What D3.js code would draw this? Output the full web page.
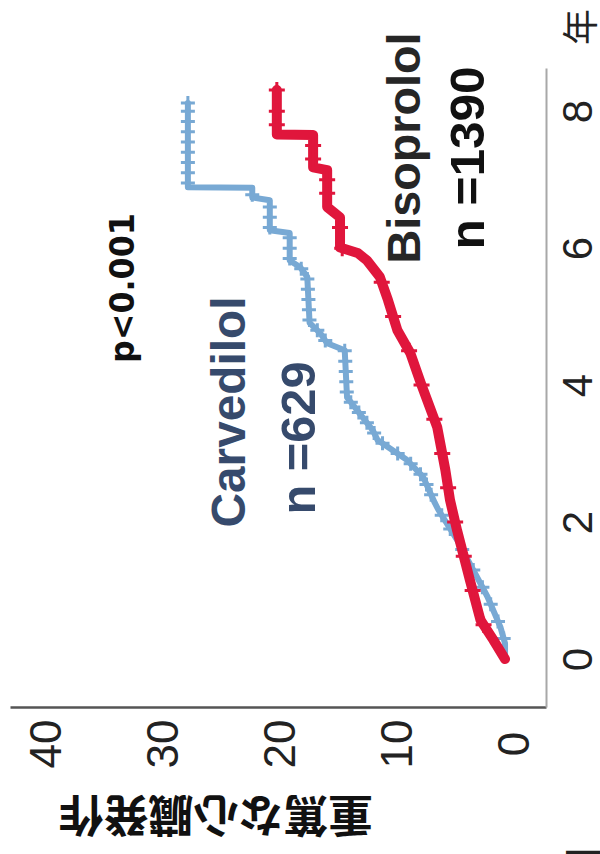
<!DOCTYPE html>
<html>
<head>
<meta charset="utf-8">
<script src="https://cdn.jsdelivr.net/npm/d3@7"></script>
<style>
  body { margin: 0; background: #fff; }
</style>
</head>
<body>
<svg id="chart" width="600" height="854"></svg>
<script>
// chart is shown turned a quarter turn: years run upward, % runs leftward
var yearTicks = [0, 2, 4, 6, 8]
var pctTicks = [0, 10, 20, 30, 40]

var carvTime = [0, 0.23, 0.47, 0.91, 1.20, 1.74, 2.18, 2.28, 2.66, 2.91, 3.20, 3.34, 3.82, 4.51, 4.61, 4.76, 4.91, 5.58, 5.72, 5.82, 6.22, 6.26, 6.70, 6.74, 6.88, 6.89, 8.12]
var carvPct = [0.7, 0.7, 1.1, 2.2, 3.1, 4.8, 6.4, 6.7, 7.7, 9.1, 11.6, 12.0, 14.2, 14.4, 15.9, 16.5, 17.4, 17.6, 18.2, 19.1, 19.1, 20.8, 20.8, 22.3, 22.3, 27.8, 27.8]
var carvCensor = [0.3, 0.55, 0.8, 1.05, 1.3, 1.6, 1.9, 2.1, 2.4, 2.55, 2.7, 2.85, 3.0, 3.15, 3.3, 3.45, 3.6, 3.75, 3.9, 4.05, 4.2, 4.35, 4.5, 4.65, 4.8, 4.95, 5.1, 5.25, 5.4, 5.55, 5.7, 5.85, 6.0, 6.15, 6.3, 6.45, 6.6, 6.78, 6.95, 7.1, 7.25, 7.4, 7.55, 7.7, 7.85, 8.0, 8.12]

var bisoTime = [0, 0.28, 0.57, 1.15, 1.88, 2.32, 2.76, 3.39, 4.03, 4.47, 4.80, 5.24, 5.58, 5.82, 5.93, 6.01, 6.45, 6.60, 7.14, 7.18, 7.65, 7.66, 8.31]
var bisoPct = [0.7, 1.7, 2.8, 3.7, 4.8, 5.4, 5.8, 6.5, 7.9, 8.8, 9.9, 10.7, 11.4, 12.5, 13.3, 14.8, 14.8, 15.9, 15.9, 17.1, 17.1, 20.2, 20.2]
var bisoCensor = [0.5, 1.0, 1.5, 2.0, 2.5, 3.0, 3.5, 4.0, 4.5, 5.0, 5.5, 6.0, 6.3, 6.8, 7.0, 7.3, 7.5, 7.8, 8.0, 8.31]

var svg = d3.select("#chart")
var tickFont = "'Liberation Sans', Arial, sans-serif"

var t = d3.scaleLinear().domain([-0.7, 8.63]).range([707, 68])
var v = d3.scaleLinear().domain([-2.8, 43]).range([546, 10])

// value axis (bottom)
var gv = svg.append("g").attr("transform", "translate(0,707)")
  .call(d3.axisBottom(v).tickValues(pctTicks).tickSize(0).tickSizeOuter(0))
gv.select(".domain").attr("stroke", "#555").attr("stroke-width", 2.5)
gv.selectAll("text")
  .attr("y", null).attr("dy", null)
  .attr("transform", "translate(0,37) rotate(-90)")
  .attr("text-anchor", "middle")
  .attr("dominant-baseline", "central")
  .style("font", "44px " + tickFont)
  .attr("fill", "#222")

// time axis (right)
var gt = svg.append("g").attr("transform", "translate(546,0)")
  .call(d3.axisRight(t).tickValues(yearTicks).tickSize(0).tickSizeOuter(0))
gt.select(".domain").attr("stroke", "#a8a8a8").attr("stroke-width", 2)
gt.selectAll("text")
  .attr("x", null).attr("dy", null)
  .attr("transform", "translate(31,0) rotate(-90)")
  .attr("text-anchor", "middle")
  .attr("dominant-baseline", "central")
  .style("font", "42px " + tickFont)
  .attr("fill", "#222")

var valueAt = function (time, pct, tt) {
  var i = d3.bisectRight(time, tt) - 1
  if (i < 0) return pct[0]
  if (i >= time.length - 1) return pct[pct.length - 1]
  var f = (tt - time[i]) / (time[i + 1] - time[i])
  return pct[i] + f * (pct[i + 1] - pct[i])
}

var line = d3.line()
  .x(function (d) { return v(d[1]) })
  .y(function (d) { return t(d[0]) })

var drawCurve = function (time, pct, censor, color, width, mark, markWidth) {
  var pts = time.map(function (d, i) { return [d, pct[i]] })
  svg.append("path").datum(pts)
    .attr("d", line)
    .attr("fill", "none")
    .attr("stroke", color)
    .attr("stroke-width", width)
    .attr("stroke-linejoin", "round")
    .attr("stroke-linecap", "round")
  var g = svg.append("g")
  censor.forEach(function (c) {
    var cx = v(valueAt(time, pct, c))
    var cy = t(c)
    g.append("path")
      .attr("d", "M" + (cx - mark) + "," + cy + "H" + (cx + mark) + "M" + cx + "," + (cy - mark) + "V" + (cy + mark))
      .attr("stroke", color)
      .attr("stroke-width", markWidth)
  })
}

drawCurve(carvTime, carvPct, carvCensor, "#78a9d4", 6, 7, 3)
drawCurve(bisoTime, bisoPct, bisoCensor, "#e0163c", 10, 8, 3)

var rotText = function (txt, cx, cy, size, weight, color, family, len) {
  var el = svg.append("text")
    .attr("transform", "translate(" + cx + "," + cy + ") rotate(-90)")
    .attr("text-anchor", "middle")
    .attr("dominant-baseline", "central")
    .style("font-family", family)
    .style("font-size", size + "px")
    .style("font-weight", weight)
    .attr("fill", color)
    .text(txt)
  if (len) el.attr("textLength", len).attr("lengthAdjust", "spacingAndGlyphs")
  return el
}

rotText("p<0.001", 122, 288, 34, "bold", "#111", "'DejaVu Sans', sans-serif", 150)
rotText("Carvedilol", 228, 412, 48, "bold", "#364a6c", tickFont, 231)
rotText("n =629", 298, 438, 48, "bold", "#364a6c", tickFont, 153)
rotText("Bisoprolol", 403, 148, 47, "bold", "#262626", tickFont, 231)
rotText("n =1390", 467, 158, 48, "bold", "#111", tickFont, 183)
rotText("年", 578, 27, 36, "normal", "#222", "'Noto Sans CJK JP', sans-serif")
rotText("日", 580, 864, 40, "normal", "#222", "'Noto Sans CJK JP', sans-serif")

// y title, upside down
svg.append("text")
  .attr("transform", "translate(216,818) rotate(180)")
  .attr("text-anchor", "middle")
  .attr("dominant-baseline", "central")
  .style("font-family", "'Noto Sans CJK JP', sans-serif")
  .style("font-size", "44px")
  .style("font-weight", "bold")
  .attr("fill", "#111")
  .attr("textLength", 314)
  .attr("lengthAdjust", "spacingAndGlyphs")
  .text("重篤な心臓発作")
</script>
</body>
</html>
